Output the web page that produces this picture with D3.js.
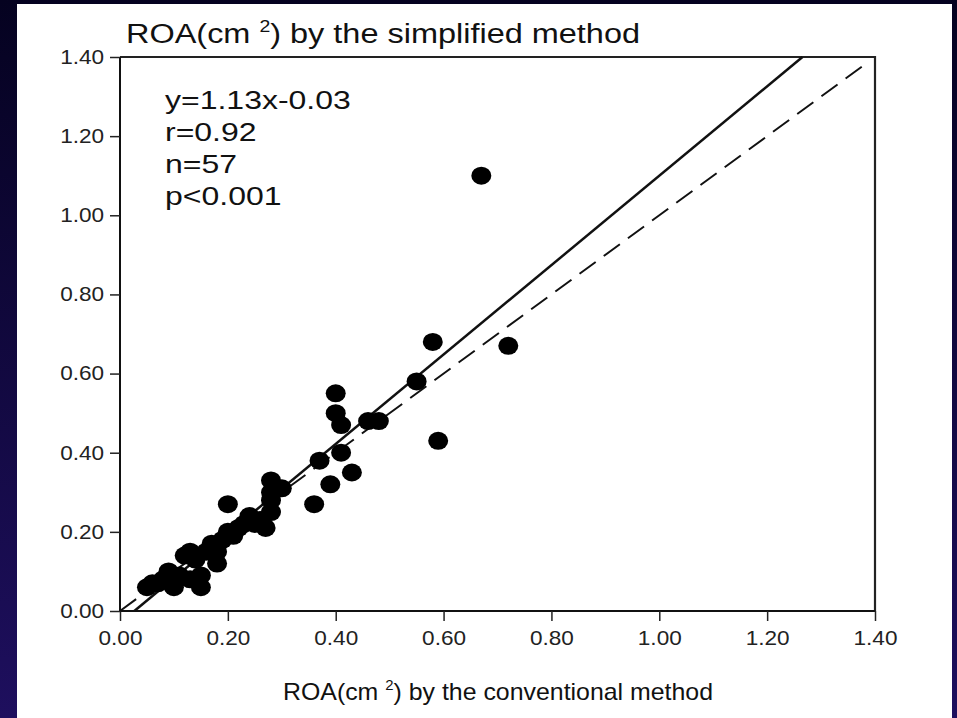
<!DOCTYPE html>
<meta charset="utf-8">
<style>

body { margin: 0; }

.tick text {
  font: 20px "Liberation Sans", Arial, sans-serif;
  fill: #222;
}

.title {
  font-family: "Liberation Sans", Arial, sans-serif;
  fill: #111;
}

.stats {
  font: 25px "Liberation Sans", Arial, sans-serif;
  fill: #111;
}

</style>
<svg width="957" height="718"></svg>
<script src="https://d3js.org/d3.v7.min.js"></script>
<script>

// ROA by conventional method (x) vs simplified method (y)
var conventional = [0.05, 0.06, 0.07, 0.08, 0.09, 0.10, 0.10, 0.11, 0.12, 0.13, 0.13, 0.14, 0.15, 0.15, 0.16,
                    0.17, 0.18, 0.18, 0.19, 0.20, 0.20, 0.21, 0.22, 0.23, 0.24, 0.25, 0.26, 0.27, 0.28, 0.28,
                    0.28, 0.28, 0.30, 0.36, 0.37, 0.39, 0.40, 0.40, 0.41, 0.41, 0.43, 0.46, 0.48, 0.55, 0.58,
                    0.59, 0.67, 0.72];
var simplified   = [0.06, 0.07, 0.07, 0.08, 0.10, 0.07, 0.06, 0.09, 0.14, 0.15, 0.08, 0.13, 0.06, 0.09, 0.15,
                    0.17, 0.12, 0.15, 0.18, 0.20, 0.27, 0.19, 0.21, 0.22, 0.24, 0.22, 0.23, 0.21, 0.25, 0.28,
                    0.30, 0.33, 0.31, 0.27, 0.38, 0.32, 0.55, 0.50, 0.47, 0.40, 0.35, 0.48, 0.48, 0.58, 0.68,
                    0.43, 1.10, 0.67];

var tickValues = [0, 0.2, 0.4, 0.6, 0.8, 1.0, 1.2, 1.4];
var statLines = ["y=1.13x-0.03", "r=0.92", "n=57", "p<0.001"];
var slope = 1.13, intercept = -0.03;

var svg = d3.select("svg");

var width = +svg.attr("width"),
    height = +svg.attr("height");

var defs = svg.append("defs");
var grad = defs.append("linearGradient")
    .attr("id", "bg")
    .attr("x1", 0).attr("y1", 0).attr("x2", 0).attr("y2", 1);
grad.append("stop").attr("offset", "0%").attr("stop-color", "#050220");
grad.append("stop").attr("offset", "100%").attr("stop-color", "#1e0f5e");

svg.append("rect")
    .attr("width", width)
    .attr("height", height)
    .attr("fill", "url(#bg)");

svg.append("rect")
    .attr("x", 17)
    .attr("y", 4)
    .attr("width", 935)
    .attr("height", height - 4)
    .attr("fill", "#fff");

var x = d3.scaleLinear().domain([0, 1.4]).range([120, 875]);
var y = d3.scaleLinear().domain([0, 1.4]).range([611, 57]);

var fmt = d3.format(".2f");

// frame (top and right)
svg.append("path")
    .attr("d", "M" + x(0) + "," + y(1.4) + "H" + x(1.4) + "V" + y(0))
    .attr("fill", "none")
    .attr("stroke", "#222")
    .attr("stroke-width", 2.2);

var xAxis = svg.append("g")
    .attr("transform", "translate(0," + y(0) + ")")
    .call(d3.axisBottom(x).tickValues(tickValues).tickFormat(fmt).tickSize(10).tickPadding(10));

var yAxis = svg.append("g")
    .attr("transform", "translate(" + x(0) + ",0)")
    .call(d3.axisLeft(y).tickValues(tickValues).tickFormat(fmt).tickSize(10).tickPadding(4));

svg.selectAll(".domain").attr("stroke", "#111").attr("stroke-width", 2);
svg.selectAll(".tick line").attr("stroke", "#222").attr("stroke-width", 1.5);
svg.selectAll(".tick text").attr("transform", "scale(1.13,1)");
xAxis.selectAll(".domain").attr("d", "M" + x(0) + ",0H" + x(1.4));
yAxis.selectAll(".domain").attr("d", "M0," + y(0) + "V" + y(1.4));

// identity line (dashed)
svg.append("line")
    .attr("x1", x(0)).attr("y1", y(0))
    .attr("x2", x(1.38)).attr("y2", y(1.38))
    .attr("stroke", "#111")
    .attr("stroke-width", 2)
    .attr("stroke-dasharray", "20,10");

// regression line
var x0 = -intercept / slope, x1 = (1.4 - intercept) / slope;
svg.append("line")
    .attr("x1", x(x0)).attr("y1", y(0))
    .attr("x2", x(x1)).attr("y2", y(1.4))
    .attr("stroke", "#111")
    .attr("stroke-width", 2.5);

svg.append("g")
  .selectAll("ellipse")
    .data(d3.range(conventional.length))
  .enter().append("ellipse")
    .attr("cx", function(i) { return x(conventional[i]); })
    .attr("cy", function(i) { return y(simplified[i]); })
    .attr("rx", 10)
    .attr("ry", 9)
    .attr("fill", "#000");

svg.append("g")
    .attr("transform", "translate(165,0) scale(1.28,1)")
  .selectAll("text")
    .data(statLines)
  .enter().append("text")
    .attr("class", "stats")
    .attr("x", 0)
    .attr("y", function(d, i) { return 109 + i * 32; })
    .text(function(d) { return d; });

function axisTitle(tx, ty, size, len, rest) {
  var t = svg.append("text")
      .attr("class", "title")
      .attr("x", tx)
      .attr("y", ty)
      .attr("textLength", len)
      .attr("lengthAdjust", "spacingAndGlyphs")
      .style("font-size", size + "px");
  t.append("tspan").text("ROA(cm ");
  t.append("tspan").attr("dy", -size * 0.4).style("font-size", (size * 0.6) + "px").text("2");
  t.append("tspan").attr("dy", size * 0.4).text(") by the " + rest);
  return t;
}

axisTitle(126, 43, 27, 514, "simplified method");
axisTitle(283, 700, 24, 430, "conventional method");

</script>
